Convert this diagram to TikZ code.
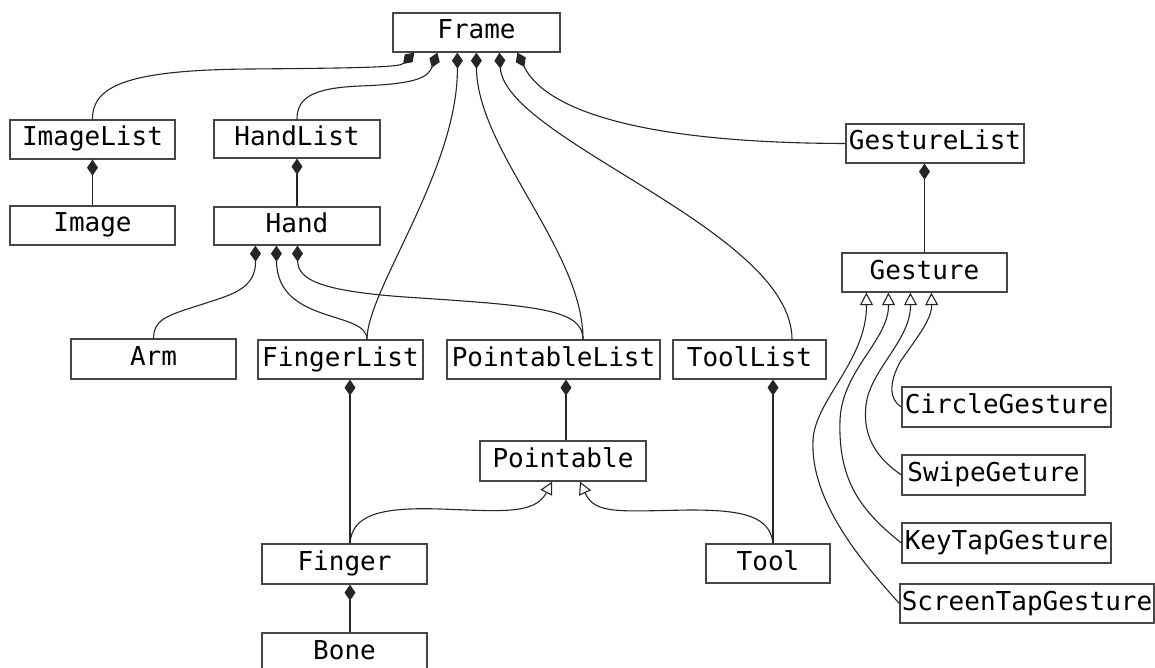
\documentclass[tikz,border=0pt]{standalone}
\usepackage{fontspec}
\setmonofont{DejaVu Sans Mono}
\usetikzlibrary{arrows.meta}
\begin{document}
\begin{tikzpicture}[x=1pt,y=-1pt,
  cls/.style={draw=black!72, line width=1.3pt, fill=white, inner sep=0pt,
    font=\ttfamily\fontsize{26}{30}\selectfont, text height=19pt, text depth=6pt},
  comp/.style={draw=black!85, line width=1.1pt, -{Diamond[length=16pt,width=11pt]}},
  inh/.style={draw=black!85, line width=1.1pt, -{Triangle[open,length=12.5pt,width=13pt,fill=white]}},
]
\useasboundingbox (0,0) rectangle (1155,668);

% classes
\node[cls, minimum width=167pt, minimum height=39pt] (frame) at (476.5,32.5) {Frame};
\node[cls, minimum width=165pt, minimum height=39pt] (imagelist) at (92.5,139.5) {ImageList};
\node[cls, minimum width=166pt, minimum height=38pt] (handlist) at (297,139) {HandList};
\node[cls, minimum width=165pt, minimum height=39pt] (image) at (92.5,225.5) {Image};
\node[cls, minimum width=166pt, minimum height=38pt] (hand) at (297,226) {Hand};
\node[cls, minimum width=165pt, minimum height=40pt] (arm) at (153.5,359) {Arm};
\node[cls, minimum width=165pt, minimum height=39pt] (fingerlist) at (340.5,359.5) {FingerList};
\node[cls, minimum width=213pt, minimum height=39pt] (pointablelist) at (553.5,359.5) {PointableList};
\node[cls, minimum width=153pt, minimum height=39pt] (toollist) at (749.5,359.5) {ToolList};
\node[cls, minimum width=178pt, minimum height=39pt] (gesturelist) at (935,143.5) {GestureList};
\node[cls, minimum width=165pt, minimum height=39pt] (gesture) at (924.5,272.5) {Gesture};
\node[cls, minimum width=166pt, minimum height=40pt] (pointable) at (563,461) {Pointable};
\node[cls, minimum width=165pt, minimum height=40pt] (finger) at (344.5,564) {Finger};
\node[cls, minimum width=165pt, minimum height=39pt] (bone) at (344.5,652.5) {Bone};
\node[cls, minimum width=124pt, minimum height=39pt] (tool) at (768,563.5) {Tool};
\node[cls, minimum width=209pt, minimum height=40pt] (circlegesture) at (1006.5,407) {CircleGesture};
\node[cls, minimum width=183pt, minimum height=40pt] (swipegeture) at (993.5,475) {SwipeGeture};
\node[cls, minimum width=209pt, minimum height=40pt] (keytapgesture) at (1006.5,543) {KeyTapGesture};
\node[cls, minimum width=254pt, minimum height=39pt] (screentapgesture) at (1027,603.5) {ScreenTapGesture};

% composition links into Frame
\draw[comp] (imagelist.north) .. controls (92,85) and (130,70) .. (250,69)
  .. controls (370,68) and (400,67) .. ([xshift=22pt]frame.south west);
\draw[comp] (handlist.north) .. controls (297,98) and (312,88) .. (360,86)
  .. controls (415,84) and (428,78) .. ([xshift=45pt]frame.south west);
\draw[comp] ([xshift=26.5pt]fingerlist.north) .. controls (367,290) and (458,170) .. ([xshift=65pt]frame.south west);
\draw[comp] ([xshift=29.5pt]pointablelist.north) .. controls (583,250) and (477,150) .. ([xshift=84pt]frame.south west);
\draw[comp] ([xshift=42.5pt]toollist.north) .. controls (792,230) and (505,140) .. ([xshift=107pt]frame.south west);
\draw[comp] (gesturelist.west) .. controls (640,143) and (545,110) .. ([xshift=125pt]frame.south west);

% composition links into Hand
\draw[comp] (arm.north) .. controls (154,320) and (165,316) .. (200,305)
  .. controls (230,295) and (256,290) .. ([xshift=42pt]hand.south west);
\draw[comp] ([xshift=26.5pt]fingerlist.north) .. controls (367,310) and (277,325) .. ([xshift=63pt]hand.south west);
\draw[comp] ([xshift=29.5pt]pointablelist.north) .. controls (583,310) and (540,306) .. (420,298)
  .. controls (320,292) and (298,280) .. ([xshift=84pt]hand.south west);

% straight composition links
\draw[comp] (image.north) -- (imagelist.south);
\draw[comp] (hand.north) -- (handlist.south);
\draw[comp] ([xshift=5.5pt]finger.north) -- ([xshift=9.5pt]fingerlist.south);
\draw[comp] ([xshift=5.5pt]bone.north) -- ([xshift=5.5pt]finger.south);
\draw[comp] ([xshift=3pt]pointable.north) -- ([xshift=12.5pt]pointablelist.south);
\draw[comp] ([xshift=5pt]tool.north) -- ([xshift=23.5pt]toollist.south);
\draw[comp] (gesture.north) -- (gesture.north |- gesturelist.south);

% inheritance
\draw[inh] ([xshift=5.5pt]finger.north) .. controls (352,515) and (380,507) .. (440,509)
  .. controls (500,511) and (535,515) .. ([xshift=-11pt]pointable.south);
\draw[inh] ([xshift=5pt]tool.north) .. controls (770,515) and (740,510) .. (690,510)
  .. controls (620,511) and (595,515) .. ([xshift=17pt]pointable.south);
\draw[inh] (circlegesture.west) .. controls (890,400) and (888,385) .. (900,362)
  .. controls (915,340) and (932,320) .. ([xshift=90pt]gesture.south west);
\draw[inh] (swipegeture.west) .. controls (880,460) and (862,440) .. (866,405)
  .. controls (870,370) and (911,340) .. ([xshift=69pt]gesture.south west);
\draw[inh] (keytapgesture.west) .. controls (860,510) and (838,480) .. (840,420)
  .. controls (842,370) and (889,340) .. ([xshift=47pt]gesture.south west);
\draw[inh] (screentapgesture.west) .. controls (860,560) and (810,500) .. (813,440)
  .. controls (815,400) and (867,360) .. ([xshift=25pt]gesture.south west);
\end{tikzpicture}
\end{document}
